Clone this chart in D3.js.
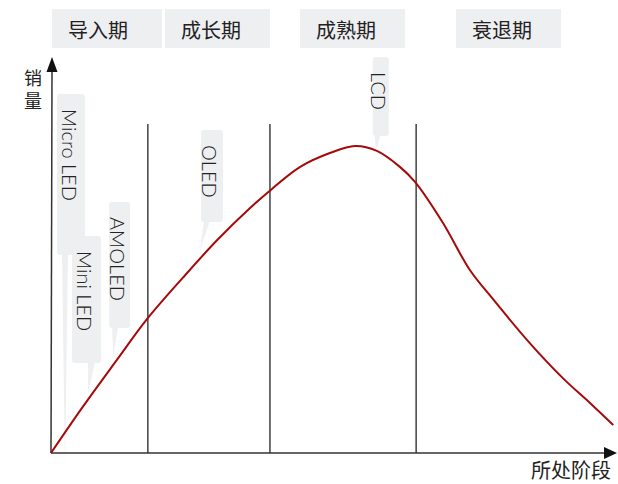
<!DOCTYPE html>
<html>
<head>
<meta charset="utf-8">
<script src="https://cdn.jsdelivr.net/npm/d3@7"></script>
<style>
  html, body { margin: 0; padding: 0; background: #fff; }
  svg { display: block; }
</style>
</head>
<body>
<script>
// Product life-cycle curve: sales over the stages of a display technology.
const stages = ["导入期", "成长期", "成熟期", "衰退期"];
// Boundaries between stages, on the 0–100 stage axis.
const stageBoundaries = [17.3, 39.1, 65.2];

// Sales curve (stage position, relative sales, peak = 100).
const curveStage = [0, 5.7, 11.8, 17.1, 23.6, 29.6, 35.5, 39.5, 44.5, 49.8, 54.3, 58.2, 62.3, 65.0, 70.0, 74.8, 78.75, 85.5, 91.4, 96.25, 100.4];
const curveSales = [0, 15.1, 30.4, 43.5, 57.2, 69.2, 79.7, 86.1, 93.2, 97.7, 100, 98.4, 93.2, 88.3, 74.9, 59.6, 50.5, 35.8, 24.4, 16.3, 9.1];

// Technologies and where each one sits in the life cycle.
const products = ["Micro LED", "Mini LED", "AMOLED", "OLED", "LCD"];
const productStage = [2.5, 6.6, 11.1, 26.6, 58.0];
const productLevel = [-5.5, 19.2, 31.6, 66.1, 98.7];

const axisTitleX = "所处阶段";
const axisTitleY = "销量";

const W = 618, H = 484;
const svg = d3.select("body").append("svg").attr("width", W).attr("height", H);

const x = d3.scaleLinear().domain([0, 100]).range([51, 611]);
const y = d3.scaleLinear().domain([0, 100]).range([453, 146]);

const boxFill = "#eeeff1";
const textColor = "#222";
const cjkFont = "'Noto Sans CJK SC', sans-serif";

// Stage header boxes along the top.
const headerLayout = [
  { x: 52, w: 110 }, { x: 165, w: 105 }, { x: 300, w: 105 }, { x: 456, w: 105 }
];
const headers = svg.append("g").selectAll("g").data(stages).join("g")
  .attr("transform", (d, i) => `translate(${headerLayout[i].x},9)`);
headers.append("rect").attr("width", (d, i) => headerLayout[i].w).attr("height", 39).attr("fill", boxFill);
headers.append("text").attr("x", 16).attr("y", 29)
  .attr("font-family", cjkFont).attr("font-size", 20)
  .attr("fill", textColor).text(d => d);

// Callout boxes: offset of the box from its pointer tip, top edge, size.
const calloutLayout = [
  { dx: -8,  top: 94,  w: 28, h: 161, b0: -3, b1: 3 },
  { dx: -16, top: 236, w: 29, h: 127, b0: 0,  b1: 7 },
  { dx: -4,  top: 202, w: 21, h: 126, b0: -1, b1: 5 },
  { dx: 1,   top: 130, w: 22, h: 92,  b0: 4,  b1: 10 },
  { dx: -3,  top: 57,  w: 16, h: 79,  b0: -1, b1: 5 }
];

const callouts = svg.append("g").selectAll("g").data(products).join("g");
callouts.append("path")
  .attr("fill", boxFill)
  .attr("d", (d, i) => {
    const tx = x(productStage[i]), ty = y(productLevel[i]);
    const L = calloutLayout[i];
    const by = L.top + L.h - 1;
    return `M${tx + L.b0},${by}L${tx + L.b1},${by}L${tx},${ty}Z`;
  });
callouts.append("rect")
  .attr("x", (d, i) => x(productStage[i]) + calloutLayout[i].dx)
  .attr("y", (d, i) => calloutLayout[i].top)
  .attr("width", (d, i) => calloutLayout[i].w)
  .attr("height", (d, i) => calloutLayout[i].h)
  .attr("rx", 3).attr("fill", boxFill);
callouts.append("text")
  .attr("transform", (d, i) => {
    const L = calloutLayout[i];
    const cx = x(productStage[i]) + L.dx + L.w / 2 - 2.5;
    return `translate(${cx - 7},${L.top + 15}) rotate(90)`;
  })
  .attr("font-family", "Lato, 'Open Sans', sans-serif").attr("font-size", 20)
  .attr("font-weight", 300).attr("fill", textColor).text(d => d);

// Stage dividers.
svg.append("g").selectAll("line").data(stageBoundaries).join("line")
  .attr("x1", d => x(d)).attr("x2", d => x(d))
  .attr("y1", 124).attr("y2", y(0))
  .attr("stroke", "#111").attr("stroke-width", 1.2);

// Axes with arrowheads.
const axisColor = "#333";
svg.append("line").attr("x1", x(0)).attr("y1", y(0)).attr("x2", 52).attr("y2", 71)
  .attr("stroke", axisColor).attr("stroke-width", 1.5);
svg.append("path").attr("d", "M52,57L46.5,72L57.5,72Z").attr("fill", "#111");
svg.append("line").attr("x1", x(0)).attr("y1", y(0)).attr("x2", 606).attr("y2", y(0))
  .attr("stroke", axisColor).attr("stroke-width", 1.5);
svg.append("path").attr("d", `M617,${y(0)}L604,${y(0) - 6}L604,${y(0) + 6}Z`).attr("fill", "#111");

// Sales curve.
const pts = curveStage.map((s, i) => [s, curveSales[i]]);
svg.append("path").datum(pts)
  .attr("fill", "none").attr("stroke", "#a50a0a").attr("stroke-width", 2)
  .attr("d", d3.line().x(d => x(d[0])).y(d => y(d[1])).curve(d3.curveCatmullRom.alpha(0.5)));

// Axis titles.
svg.append("text").attr("x", 611).attr("y", 478).attr("text-anchor", "end")
  .attr("font-family", cjkFont).attr("font-size", 20)
  .attr("fill", textColor).text(axisTitleX);
// Vertical title, characters stacked top to bottom.
svg.append("text").attr("x", 33).attr("y", 69)
  .style("writing-mode", "vertical-rl")
  .style("text-orientation", "upright")
  .style("letter-spacing", "5px")
  .attr("font-family", cjkFont).attr("font-size", 18)
  .attr("fill", textColor).text(axisTitleY);
</script>
</body>
</html>
